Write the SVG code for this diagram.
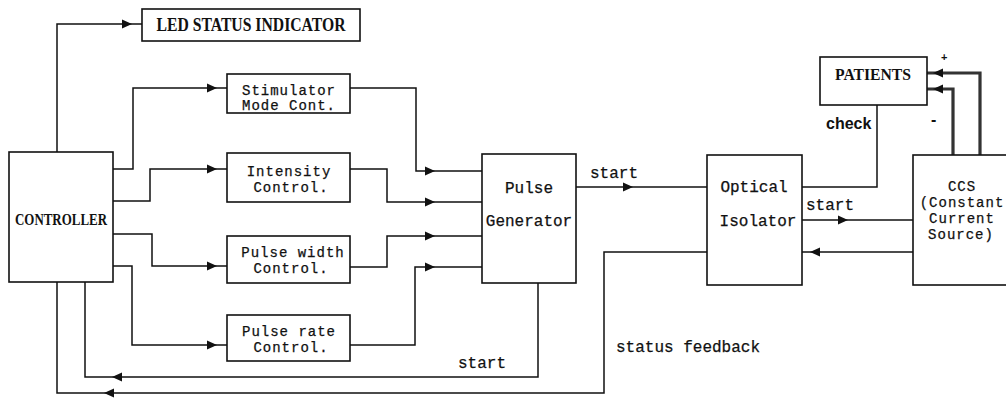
<svg xmlns="http://www.w3.org/2000/svg" xmlns:xlink="http://www.w3.org/1999/xlink" width="1006" height="398" viewBox="0 0 1006 398">
<style>
.box{fill:#fff;stroke:#111;stroke-width:1.6}
.ln{fill:none;stroke:#111;stroke-width:1.5}
.thick{fill:none;stroke:#333;stroke-width:3.2}
.m{font-family:"Liberation Mono",monospace;font-size:16px;fill:#111;text-anchor:middle;stroke:#111;stroke-width:0.25}
.t{font-size:14px;letter-spacing:1px}
.s{font-family:"Liberation Serif",serif;font-weight:bold;fill:#111;text-anchor:middle}
.a{font-family:"Liberation Sans",sans-serif;font-weight:bold;font-size:16px;fill:#111}
</style>
<defs>
<path id="tri" d="M0,0 L-10,-4.5 L-10,4.5 Z" fill="#111"/>
</defs>
<rect width="1006" height="398" fill="#fff"/>
<g id="connectors">
<path class="ln" d="M57,152 V24 H142"/>
<path class="ln" d="M113,169 H133 V88 H227"/>
<path class="ln" d="M113,201 H150 V169 H227"/>
<path class="ln" d="M113,234 H152 V266 H227"/>
<path class="ln" d="M113,266 H132 V345 H227"/>
<path class="ln" d="M350,88 H416 V171 H482"/>
<path class="ln" d="M350,169 H387 V202 H482"/>
<path class="ln" d="M350,267 H387 V236 H482"/>
<path class="ln" d="M350,345 H415 V267 H482"/>
<path class="ln" d="M576,187 H707"/>
<path class="ln" d="M538,283 V377 H85 V282"/>
<path class="ln" d="M707,252 H604 V393 H57 V282"/>
<path class="ln" d="M802,187 H877 V105"/>
<path class="ln" d="M802,220 H913"/>
<path class="ln" d="M913,252 H802"/>
<path class="thick" d="M980,155 V73 H927"/>
<path class="thick" d="M953,155 V89 H927"/>
<use xlink:href="#tri" transform="translate(132,24)"/>
<use xlink:href="#tri" transform="translate(217,88)"/>
<use xlink:href="#tri" transform="translate(217,169)"/>
<use xlink:href="#tri" transform="translate(217,266)"/>
<use xlink:href="#tri" transform="translate(217,345)"/>
<use xlink:href="#tri" transform="translate(435,171)"/>
<use xlink:href="#tri" transform="translate(435,202)"/>
<use xlink:href="#tri" transform="translate(435,236)"/>
<use xlink:href="#tri" transform="translate(435,267)"/>
<use xlink:href="#tri" transform="translate(633,187)"/>
<use xlink:href="#tri" transform="translate(848,220)"/>
<use xlink:href="#tri" transform="translate(112,377) scale(-1,1)"/>
<use xlink:href="#tri" transform="translate(104,393) scale(-1,1)"/>
<use xlink:href="#tri" transform="translate(810,252) scale(-1,1)"/>
<use xlink:href="#tri" transform="translate(933,73) scale(-1,1)"/>
<use xlink:href="#tri" transform="translate(933,89) scale(-1,1)"/>
<text class="m" x="614" y="178">start</text>
<text class="m" x="830" y="210">start</text>
<text class="m" x="482" y="368">start</text>
<text class="m" x="688" y="352">status feedback</text>
<text class="a" x="826" y="129">check</text>
<text class="a" x="941" y="61" style="font-size:11px">+</text>
<text class="a" x="931" y="125">-</text>
</g>
<g id="led"><rect class="box" x="142" y="9" width="218" height="32"/><text class="s" x="251" y="31" font-size="18" textLength="189" lengthAdjust="spacingAndGlyphs">LED STATUS INDICATOR</text></g>
<g id="controller"><rect class="box" x="9" y="152" width="104" height="130"/><text class="s" x="61" y="225" font-size="17" textLength="92" lengthAdjust="spacingAndGlyphs">CONTROLLER</text></g>
<g id="stim"><rect class="box" x="227" y="74" width="123" height="39"/><text class="m t" x="289" y="95">Stimulator</text><text class="m t" x="289" y="110">Mode Cont.</text></g>
<g id="intensity"><rect class="box" x="227" y="153" width="123" height="49"/><text class="m t" x="289" y="176">Intensity</text><text class="m t" x="291" y="192">Control.</text></g>
<g id="pwidth"><rect class="box" x="227" y="236" width="123" height="47"/><text class="m t" x="293" y="257">Pulse width</text><text class="m t" x="291" y="273">Control.</text></g>
<g id="prate"><rect class="box" x="227" y="315" width="123" height="46"/><text class="m t" x="289" y="336">Pulse rate</text><text class="m t" x="291" y="352">Control.</text></g>
<g id="pulsegen"><rect class="box" x="482" y="154" width="94" height="129"/><text class="m" x="529" y="193">Pulse</text><text class="m" x="529" y="226">Generator</text></g>
<g id="optical"><rect class="box" x="707" y="155" width="95" height="130"/><text class="m" x="754" y="192">Optical</text><text class="m" x="758" y="226">Isolator</text></g>
<g id="patients"><rect class="box" x="820" y="57" width="107" height="48"/><text class="s" x="873" y="80" font-size="16" textLength="76" lengthAdjust="spacingAndGlyphs">PATIENTS</text></g>
<g id="ccs"><rect class="box" x="913" y="155" width="100" height="130"/><text class="m t" x="962" y="191">CCS</text><text class="m t" x="962" y="207">(Constant</text><text class="m t" x="962" y="223">Current</text><text class="m t" x="961" y="239">Source)</text></g>
</svg>
